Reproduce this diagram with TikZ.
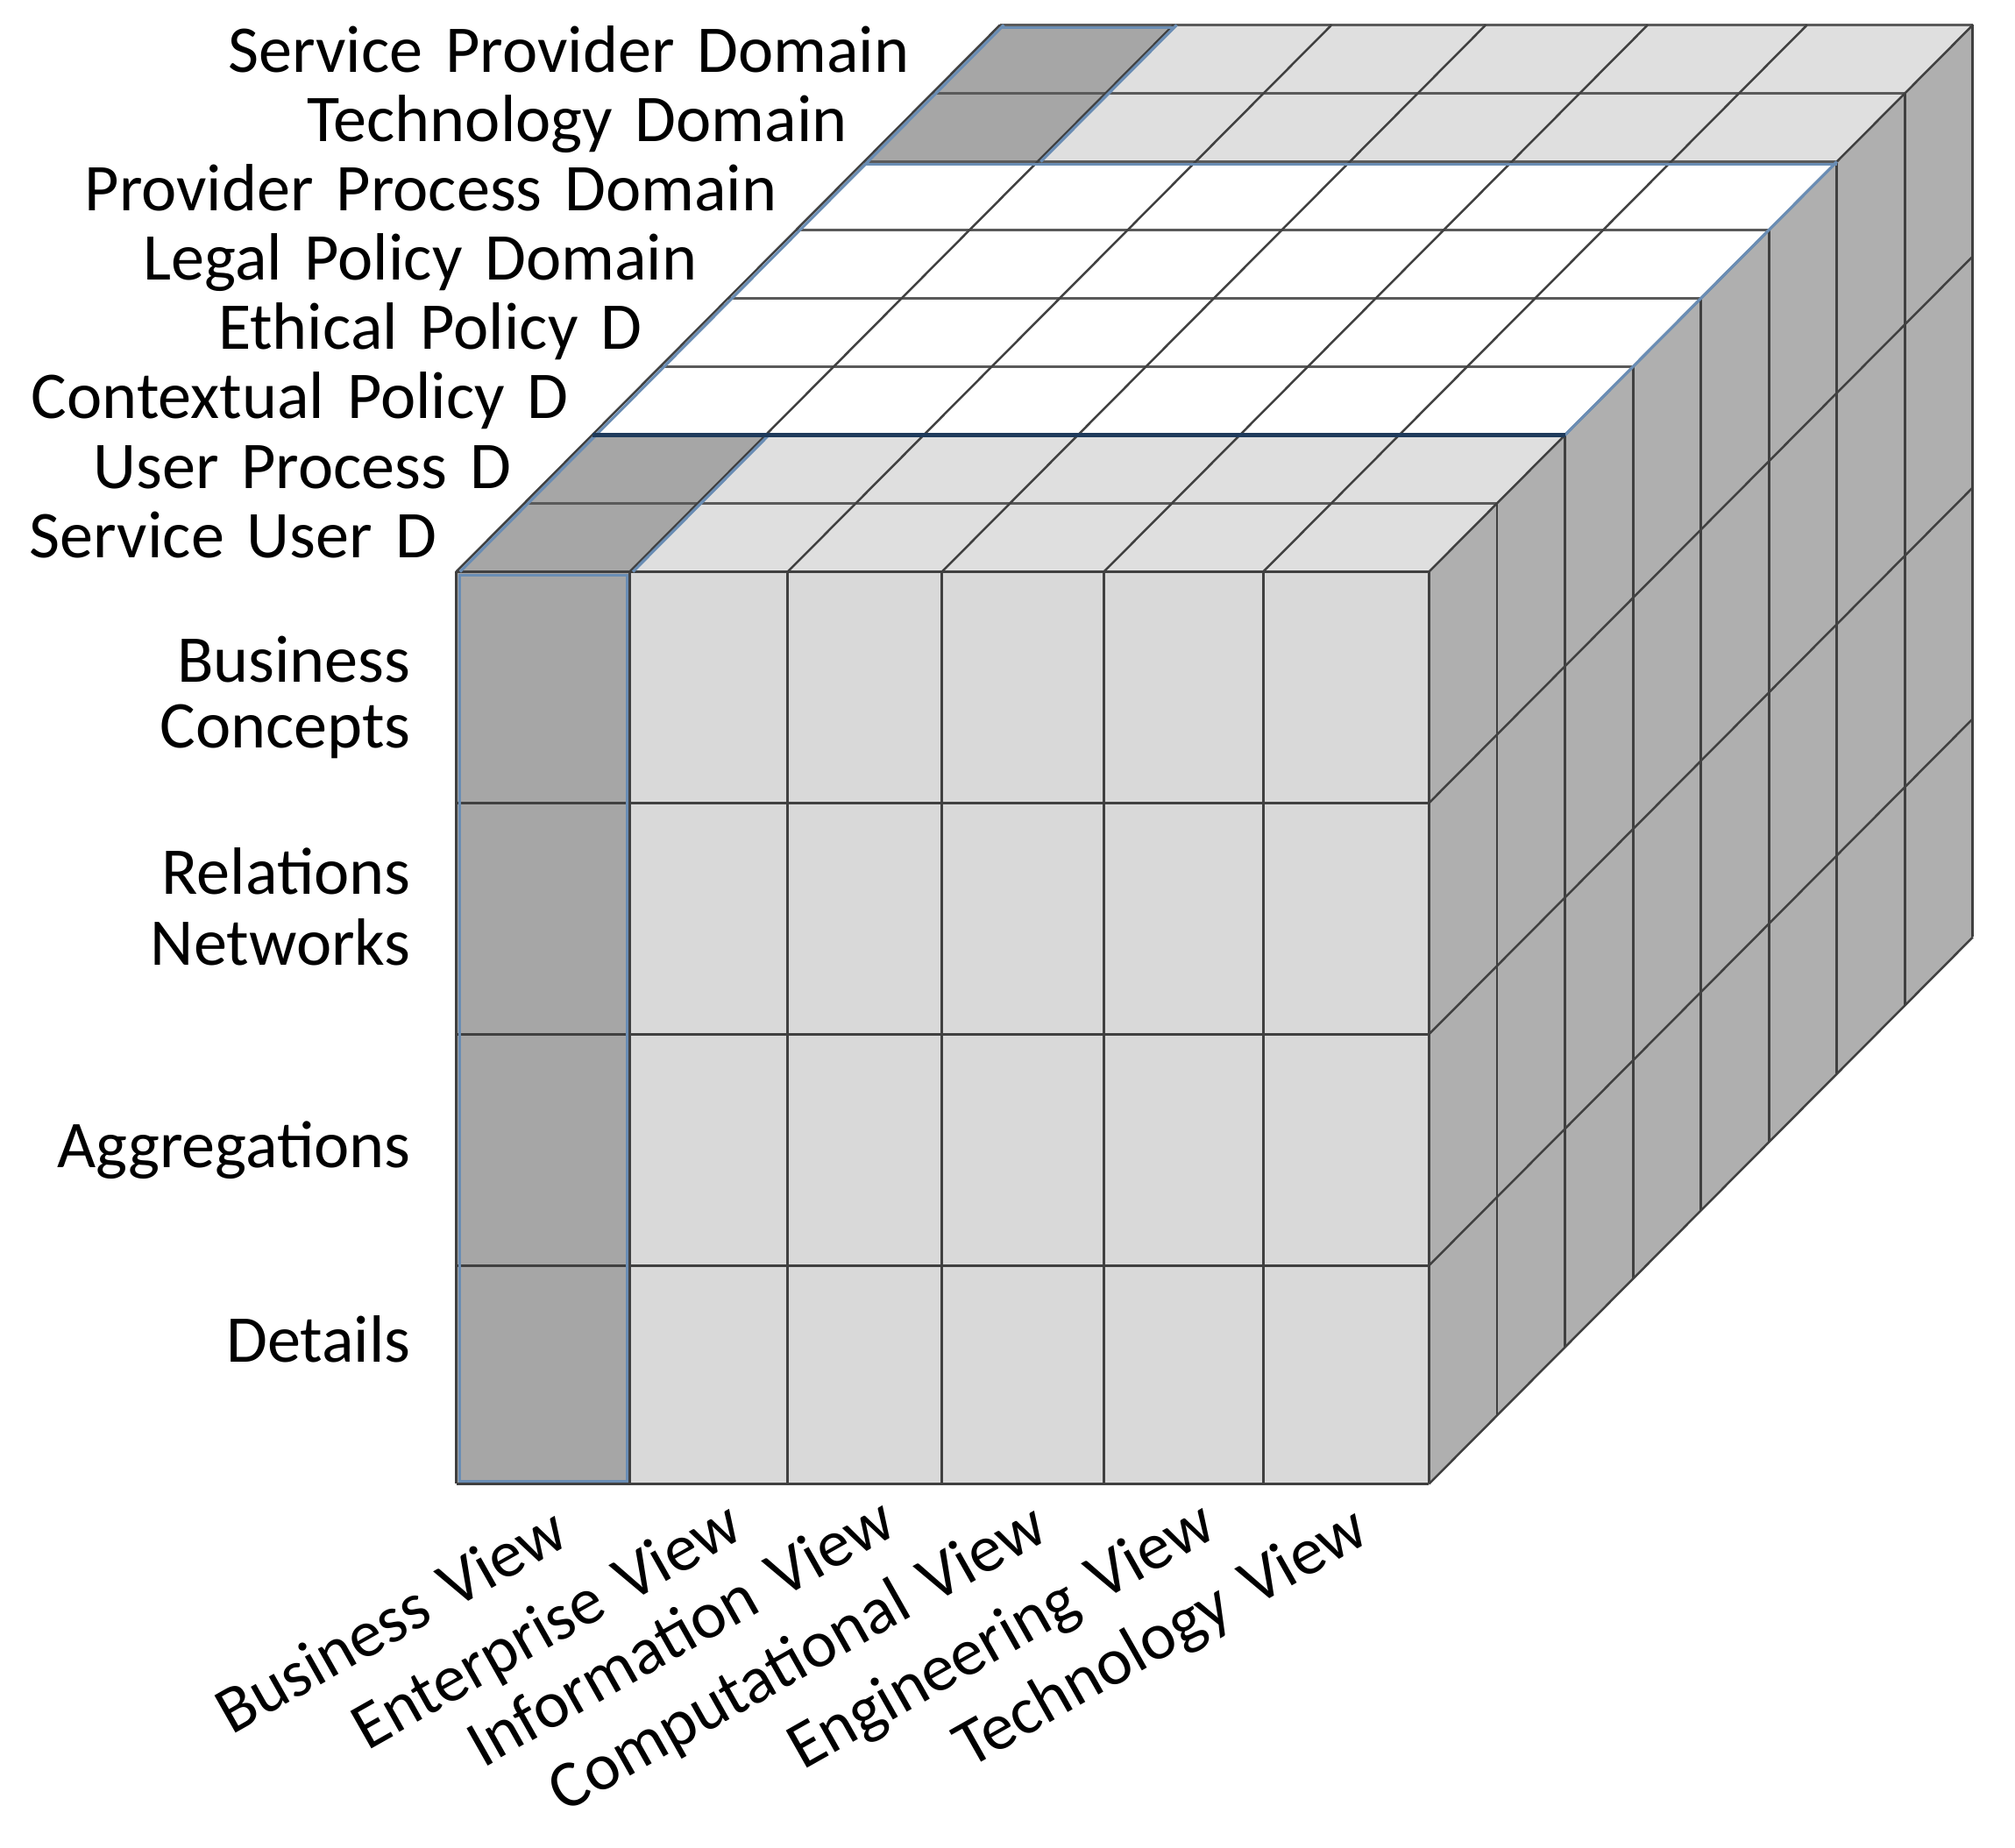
\documentclass[tikz,border=0pt]{standalone}
\usepackage{fontspec}
\setmainfont{Carlito}[WordSpace=1.5]
\definecolor{darkcell}{HTML}{A6A6A6}
\definecolor{frontgray}{HTML}{D9D9D9}
\definecolor{topgray}{HTML}{DFDFDF}
\definecolor{sidegray}{HTML}{AFAFAF}
\definecolor{linegray}{HTML}{404040}
\definecolor{layergray}{HTML}{5A5A5A}
\definecolor{edgeblue}{HTML}{6A8DB4}
\definecolor{edgenavy}{HTML}{1F3B5C}
\begin{document}
\begin{tikzpicture}[x=0.5pt,y=-0.5pt,
  gridline/.style={draw=linegray,line width=1pt},
  layerline/.style={draw=layergray,line width=1.3pt},
  diagline/.style={draw=linegray,line width=0.85pt},
  blueline/.style={draw=edgeblue,line width=1.1pt},
  navyline/.style={draw=edgenavy,line width=1.6pt},
  lbl/.style={font=\fontsize{26}{30}\selectfont,text=black,inner sep=0pt},
  collbl/.style={lbl,anchor=base east,rotate=29.5},
]
\useasboundingbox (0,0) rectangle (1568,1438);
\def\dx{52.9}
\def\dz{53.2}
% ---------- fills ----------
% right face
\fill[sidegray] (1112,445) -- ({1112+8*\dx},{445-8*\dz}) -- ({1112+8*\dx},{1155-8*\dz}) -- (1112,1155) -- cycle;
% front face
\fill[frontgray] (490,445) rectangle (1112,1155);
\fill[darkcell] (355,445) rectangle (490,1155);
% top face strips
\foreach \k/\col in {0/topgray,1/topgray,2/white,3/white,4/white,5/white,6/topgray,7/topgray}{
  \fill[\col] ({355+\k*\dx},{445-\k*\dz}) -- ({1112+\k*\dx},{445-\k*\dz})
     -- ({1112+(\k+1)*\dx},{445-(\k+1)*\dz}) -- ({355+(\k+1)*\dx},{445-(\k+1)*\dz}) -- cycle;
}
\foreach \k in {0,1,6,7}{
  \fill[darkcell] ({355+\k*\dx},{445-\k*\dz}) -- ({490+\k*\dx},{445-\k*\dz})
     -- ({490+(\k+1)*\dx},{445-(\k+1)*\dz}) -- ({355+(\k+1)*\dx},{445-(\k+1)*\dz}) -- cycle;
}
% ---------- grid lines ----------
% front face
\foreach \x in {355,490,613,733,859,983,1112}
  \draw[gridline] (\x,445) -- (\x,1155);
\foreach \y in {445,625,805,985,1155}
  \draw[gridline] (355,\y) -- (1112,\y);
% top face: layer lines
\foreach \b in {1,...,8}
  \draw[layerline] ({355+\b*\dx},{445-\b*\dz}) -- ({1112+\b*\dx},{445-\b*\dz});
% top face: column lines
\foreach \x in {355,490,613,733,859,983,1112}
  \draw[diagline] (\x,445) -- ({\x+8*\dx},{445-8*\dz});
% right face: layer lines
\foreach \b in {1,...,8}
  \draw[gridline] ({1112+\b*\dx},{445-\b*\dz}) -- ({1112+\b*\dx},{1155-\b*\dz});
% right face: row lines
\foreach \y in {625,805,985,1155}
  \draw[diagline] (1112,\y) -- ({1112+8*\dx},{\y-8*\dz});
% ---------- blue highlights ----------
\draw[blueline] (357.5,447.5) rectangle (488,1153);
\draw[blueline] (358,445) -- ({358+8*\dx},{445-8*\dz});
\draw[blueline] (492.5,445) -- ({492.5+2*\dx},{445-2*\dz});
\draw[blueline] ({492.5+6*\dx},{445-6*\dz}) -- ({492.5+8*\dx},{445-8*\dz});
\draw[blueline] ({355+8*\dx},{447-8*\dz}) -- ({490+8*\dx},{447-8*\dz});
\draw[blueline] ({355+6*\dx},{447-6*\dz}) -- ({1112+6*\dx},{447-6*\dz});
\draw[blueline] ({1112+2*\dx},{445-2*\dz}) -- ({1112+6*\dx},{445-6*\dz});
\draw[navyline] ({355+2*\dx},{445-2*\dz}) -- ({1112+2*\dx},{445-2*\dz});
% ---------- depth labels ----------
\node[lbl,anchor=base east] (d8) at (708,56)  {Service Provider Domain};
\node[lbl,anchor=base east] (d7) at (660,110) {Technology Domain};
\node[lbl,anchor=base east] (d6) at (605,164) {Provider Process Domain};
\node[lbl,anchor=base east] (d5) at (543,218) {Legal Policy Domain};
\node[lbl,anchor=base east] (d4) at (500,272) {Ethical Policy D};
\node[lbl,anchor=base east] (d3) at (443,326) {Contextual Policy D};
\node[lbl,anchor=base east] (d2) at (398,380) {User Process D};
\node[lbl,anchor=base east] (d1) at (340,434) {Service User D};
% ---------- row labels ----------
\node[lbl,anchor=base east] (r1a) at (320,531)  {Business};
\node[lbl,anchor=base east] (r1b) at (320,582)  {Concepts};
\node[lbl,anchor=base east] (r2a) at (320,696)  {Relations};
\node[lbl,anchor=base east] (r2b) at (320,751)  {Networks};
\node[lbl,anchor=base east] (r3)  at (320,909)  {Aggregations};
\node[lbl,anchor=base east] (r4)  at (320,1060) {Details};
% ---------- column labels ----------
\node[collbl] (c1) at (445,1201) {Business View};
\node[collbl] (c2) at (581,1196) {Enterprise View};
\node[collbl] (c3) at (700,1193) {Information View};
\node[collbl] (c4) at (818,1197) {Computational View};
\node[collbl] (c5) at (949,1195) {Engineering View};
\node[collbl] (c6) at (1068,1199) {Technology View};
\end{tikzpicture}
\end{document}
